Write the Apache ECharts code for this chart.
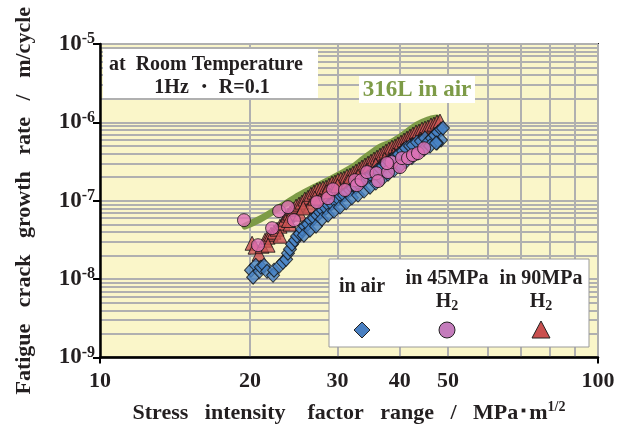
<!DOCTYPE html>
<html>
<head>
<meta charset="utf-8">
<script src="https://cdn.jsdelivr.net/npm/echarts@6/dist/echarts.min.js"></script>
<style>html,body{margin:0;padding:0;background:#fff;}#c{width:627px;height:429px;}</style>
</head>
<body>
<div id="c"></div>
<script>
// Stress intensity factor range (MPa·m^1/2) and crack growth rate (m/cycle)
const airK = [20.1,20.3,20.55,20.9,21.05,21.35,21.65,22.26,22.36,22.9,
  23.3,23.65,23.85,24.07,24.3,24.64,24.87,25.2,25.44,25.79,
  26.16,26.5,26.9,27.3,27.65,28.04,28.43,28.8,29.2,29.64,
  30.1,30.5,30.9,31.33,31.77,32.2,32.66,33.1,33.6,34.05,
  34.5,35.0,35.5,36.0,36.5,37.0,37.5,38.05,38.6,39.3,
  39.85,40.6,41.15,41.93,42.5,43.3,44.1,44.94,45.56,46.4,
  47.06,47.7,48.4,48.84,48.4,47.5,
  25.67,26.4,27.15,27.9,28.7,29.5,30.33,31.2,32.05,32.97,33.9,34.85,35.8,36.85,37.87,38.95,40.03,41.15,42.3,43.5,44.75,46.0,47.3];
const airRate = [1.30e-8,1.06e-8,1.50e-8,1.26e-8,1.42e-8,1.50e-8,1.26e-8,1.12e-8,1.30e-8,1.46e-8,
  1.64e-8,1.79e-8,2.14e-8,2.41e-8,2.79e-8,3.14e-8,3.53e-8,3.80e-8,4.34e-8,4.74e-8,
  5.03e-8,5.65e-8,6.0e-8,6.55e-8,7.15e-8,7.59e-8,8.05e-8,8.78e-8,9.2e-8,9.9e-8,
  1.06e-7,1.15e-7,1.18e-7,1.29e-7,1.37e-7,1.45e-7,1.49e-7,1.63e-7,1.73e-7,1.89e-7,
  2.00e-7,2.12e-7,2.25e-7,2.46e-7,2.60e-7,2.77e-7,2.94e-7,3.16e-7,3.36e-7,3.66e-7,
  3.93e-7,4.30e-7,4.70e-7,5.0e-7,5.13e-7,5.60e-7,5.77e-7,6.30e-7,5.60e-7,6.30e-7,
  6.88e-7,7.5e-7,8.2e-7,8.46e-7,5.94e-7,5.45e-7,
  3.64e-8,4.21e-8,4.74e-8,5.82e-8,6.55e-8,7.37e-8,8.29e-8,9.4e-8,1.09e-7,1.18e-7,1.33e-7,1.49e-7,1.68e-7,1.89e-7,2.18e-7,2.46e-7,2.77e-7,3.16e-7,3.56e-7,4.05e-7,4.55e-7,5.0e-7,5.45e-7];

const h45K = [19.46,20.76,22.16,22.89,23.85,24.52,27.27,28.7,29.37,31.04,32.51,32.8,33.5,34.37,35.9,36.16,37.87,38.5,40.03,40.4,41.54,42.5,43.5,44.75,37.7];
const h45Rate = [5.65e-8,2.71e-8,4.47e-8,7.37e-8,8.29e-8,5.65e-8,9.6e-8,1.08e-7,1.40e-7,1.37e-7,1.83e-7,1.58e-7,1.83e-7,2.32e-7,2.25e-7,1.78e-7,2.32e-7,3.11e-7,2.69e-7,3.50e-7,3.50e-7,3.82e-7,4.05e-7,4.68e-7,3.02e-7];

const h90K = [20.2,20.48,20.86,21.15,21.45,21.75,22.06,22.36,22.67,22.99,
  23.31,23.53,23.85,24.07,24.41,24.76,25.1,25.44,25.79,26.16,
  26.52,26.9,27.27,27.65,28.04,28.43,28.83,29.23,29.64,30.05,
  30.47,30.9,31.33,31.77,32.21,32.66,33.12,33.58,34.05,34.53,
  35.01,35.5,36.0,36.5,37.01,37.52,38.04,38.57,39.12,39.66,
  40.22,40.78,41.35,41.93,42.51,43.11,43.71,44.32,44.94,45.56,
  46.2,46.84,47.5,48.16,
  22.99,24.07,25.2,26.4,27.65,28.96,30.33,31.77,33.27,34.85,36.5,38.22,40.03,41.93,43.91,21.75,
  23.9,25.6,27.0,28.5,30.0,31.5,33.0,34.4,35.8,37.3,38.9,40.5,42.2,44.0];
const h90Rate = [2.87e-8,2.56e-8,2.08e-8,2.63e-8,3.14e-8,3.43e-8,3.74e-8,3.97e-8,4.34e-8,4.74e-8,
  5.18e-8,5.82e-8,6.55e-8,6.94e-8,7.81e-8,8.53e-8,9.05e-8,9.6e-8,1.05e-7,1.11e-7,
  1.21e-7,1.29e-7,1.37e-7,1.41e-7,1.45e-7,1.49e-7,1.58e-7,1.68e-7,1.73e-7,1.83e-7,
  1.89e-7,1.94e-7,2.06e-7,2.12e-7,2.25e-7,2.39e-7,2.53e-7,2.69e-7,2.85e-7,3.02e-7,
  3.20e-7,3.40e-7,3.60e-7,3.82e-7,4.05e-7,4.30e-7,4.56e-7,4.83e-7,4.98e-7,5.28e-7,
  5.60e-7,5.94e-7,6.30e-7,6.68e-7,7.09e-7,7.52e-7,7.74e-7,8.21e-7,8.46e-7,8.71e-7,
  9.24e-7,9.51e-7,1.009e-6,1.039e-6,
  3.53e-8,5.03e-8,6.74e-8,8.53e-8,1.02e-7,1.18e-7,1.37e-7,1.54e-7,1.83e-7,2.25e-7,2.77e-7,3.30e-7,4.05e-7,4.83e-7,5.77e-7,2.71e-8,
  5.6e-8,8.1e-8,1.08e-7,1.30e-7,1.55e-7,1.75e-7,2.05e-7,2.45e-7,2.85e-7,3.35e-7,3.85e-7,4.45e-7,5.20e-7,6.10e-7];

// 316L in air reference curve
const refK = [19.55,20.96,22.99,25.2,27.02,29.37,32.21,33.58,36.5,38.22,40.03,43.3,45.56,47.5];
const refRate = [4.74e-8,5.82e-8,8.29e-8,1.18e-7,1.49e-7,1.94e-7,2.69e-7,3.30e-7,4.83e-7,5.44e-7,6.49e-7,9.24e-7,1.07e-6,1.135e-6];

const xTickLabels = [10, 20, 30, 40, 50, 100];
const seriesNames = ['in air', 'in 45MPa H2', 'in 90MPa H2', '316L in air'];

const zip = (a, b) => a.map((v, i) => [v, b[i]]);
const FONT = '"Liberation Serif", "Times New Roman", serif';
const TXT = '#231f20';

const chart = echarts.init(document.getElementById('c'), null, {renderer: 'canvas'});
chart.setOption({
  animation: false,
  backgroundColor: '#ffffff',
  grid: {left: 100, right: 29, top: 44, bottom: 71.5, show: true,
         backgroundColor: '#faf6c9', borderColor: '#1a1a1a', borderWidth: 2},
  xAxis: {
    type: 'log', logBase: 10, min: 10, max: 100,
    axisLine: {show: true, onZero: false, lineStyle: {color: '#000', width: 2.5}},
    axisTick: {show: true, inside: false, length: 6, lineStyle: {color: '#000', width: 2}},
    minorTick: {show: false, splitNumber: 9},
    splitLine: {show: true, lineStyle: {color: '#b0b0b0', width: 2}},
    minorSplitLine: {show: true, lineStyle: {color: '#b0b0b0', width: 2}},
    axisLabel: {customValues: xTickLabels, margin: 13, fontFamily: FONT, fontWeight: 'bold', fontSize: 22, color: TXT,
                formatter: v => String(Math.round(v))},
    name: '{t|Stress   intensity    factor   range   /   MPa･m}{s|1/2}',
    nameLocation: 'middle', nameGap: 43,
    nameTextStyle: {fontFamily: FONT, fontWeight: 'bold', fontSize: 22, color: TXT,
      rich: {t: {fontFamily: FONT, fontWeight: 'bold', fontSize: 22, color: TXT, lineHeight: 25},
             s: {fontFamily: FONT, fontWeight: 'bold', fontSize: 14, color: TXT, verticalAlign: 'top', lineHeight: 15}}}
  },
  yAxis: {
    type: 'log', logBase: 10, min: 1e-9, max: 1e-5,
    axisLine: {show: true, onZero: false, lineStyle: {color: '#000', width: 2.5}},
    axisTick: {show: true, inside: false, length: 7, lineStyle: {color: '#000', width: 2}},
    minorTick: {show: false, splitNumber: 9},
    splitLine: {show: true, lineStyle: {color: '#b0b0b0', width: 2}},
    minorSplitLine: {show: true, lineStyle: {color: '#b0b0b0', width: 2}},
    axisLabel: {margin: 5, color: TXT,
      formatter: v => '{b|10}{s|' + Math.round(Math.log10(v)) + '}',
      rich: {b: {fontFamily: FONT, fontWeight: 'bold', fontSize: 23, color: TXT, lineHeight: 26},
             s: {fontFamily: FONT, fontWeight: 'bold', fontSize: 16, color: TXT, verticalAlign: 'top', lineHeight: 17}}},
    name: 'Fatigue   crack   growth   rate   /   m/cycle',
    nameLocation: 'middle', nameGap: 65, nameRotate: 90,
    nameTextStyle: {fontFamily: FONT, fontWeight: 'bold', fontSize: 22, color: TXT}
  },
  series: [
    {name: seriesNames[3], type: 'line', data: zip(refK, refRate), showSymbol: false, smooth: 0.3, z: 2,
     lineStyle: {color: '#7d9b47', width: 7, cap: 'round', join: 'round'}},
    {name: seriesNames[2], type: 'scatter', data: zip(h90K, h90Rate), symbol: 'triangle', symbolSize: 14, z: 3,
     itemStyle: {color: '#cc5252', borderColor: '#111', borderWidth: 1}},
    {name: seriesNames[0], type: 'scatter', data: zip(airK, airRate), symbol: 'diamond', symbolSize: [13, 14], z: 4,
     itemStyle: {color: '#4682c6', borderColor: '#111', borderWidth: 1}},
    {name: seriesNames[1], type: 'scatter', data: zip(h45K, h45Rate), symbol: 'circle', symbolSize: 13, z: 5,
     itemStyle: {color: '#e072b5', borderColor: '#111', borderWidth: 1}}
  ],
  graphic: [
    {type: 'rect', z: 100, shape: {x: 103, y: 49, width: 215, height: 49}, style: {fill: '#fff'}},
    {type: 'text', z: 101, style: {text: 'at  Room Temperature', x: 109, y: 65, align: 'left', verticalAlign: 'middle',
      font: 'bold 20px ' + FONT, fill: TXT}},
    {type: 'text', z: 101, style: {text: '1Hz ・ R=0.1', x: 212, y: 88, align: 'center', verticalAlign: 'middle',
      font: 'bold 20px ' + FONT, fill: TXT}},
    {type: 'rect', z: 100, shape: {x: 359, y: 76, width: 116, height: 27}, style: {fill: '#fff'}},
    {type: 'text', z: 101, style: {text: '316L in air', x: 417, y: 90, align: 'center', verticalAlign: 'middle',
      font: 'bold 23px ' + FONT, fill: '#7d9b47'}},
    {type: 'rect', z: 100, shape: {x: 329, y: 259, width: 260, height: 88}, style: {fill: '#fff', stroke: '#9a9a9a', lineWidth: 1}},
    {type: 'text', z: 101, style: {text: 'in air', x: 362, y: 287, align: 'center', verticalAlign: 'middle',
      font: 'bold 20px ' + FONT, fill: TXT}},
    {type: 'text', z: 101, style: {text: 'in 45MPa', x: 447, y: 279, align: 'center', verticalAlign: 'middle',
      font: 'bold 20px ' + FONT, fill: TXT}},
    {type: 'text', z: 101, style: {text: '{h|H}{d|2}', x: 447, y: 302, align: 'center', verticalAlign: 'middle',
      rich: {h: {font: 'bold 20px ' + FONT, fill: TXT, lineHeight: 22}, d: {font: 'bold 14px ' + FONT, fill: TXT, verticalAlign: 'bottom', lineHeight: 13}}}},
    {type: 'text', z: 101, style: {text: 'in 90MPa', x: 541, y: 279, align: 'center', verticalAlign: 'middle',
      font: 'bold 20px ' + FONT, fill: TXT}},
    {type: 'text', z: 101, style: {text: '{h|H}{d|2}', x: 541, y: 302, align: 'center', verticalAlign: 'middle',
      rich: {h: {font: 'bold 20px ' + FONT, fill: TXT, lineHeight: 22}, d: {font: 'bold 14px ' + FONT, fill: TXT, verticalAlign: 'bottom', lineHeight: 13}}}},
    {type: 'polygon', z: 101, shape: {points: [[362, 322], [370, 330], [362, 338], [354, 330]]},
      style: {fill: '#4a80c2', stroke: '#222', lineWidth: 1}},
    {type: 'circle', z: 101, shape: {cx: 447, cy: 330, r: 8}, style: {fill: '#c47cbc', stroke: '#222', lineWidth: 1}},
    {type: 'polygon', z: 101, shape: {points: [[541, 321], [550, 338], [532, 338]]},
      style: {fill: '#c9504f', stroke: '#222', lineWidth: 1}}
  ]
});
</script>
</body>
</html>
